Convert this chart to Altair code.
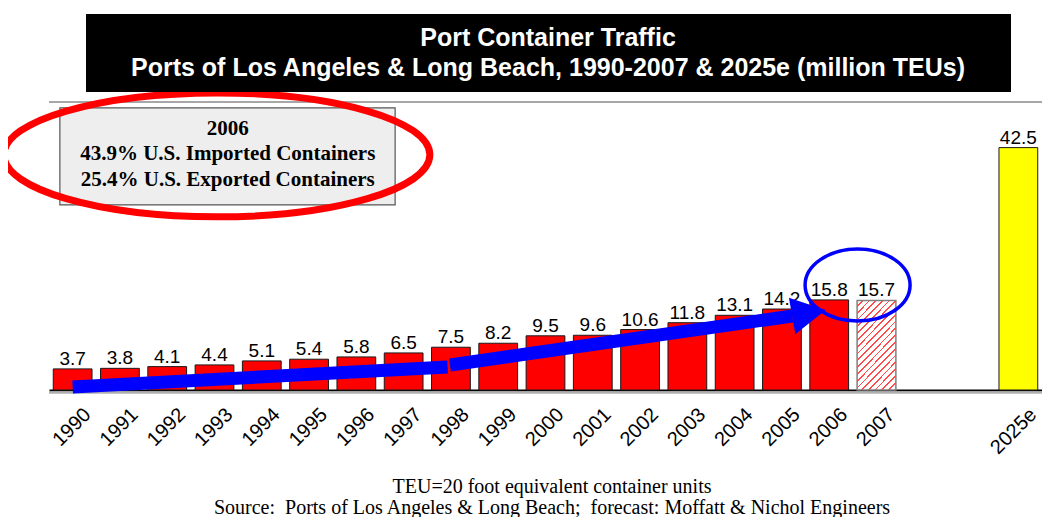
import altair as alt
import pandas as pd

# ---------------- data ----------------
years = ["1990", "1991", "1992", "1993", "1994", "1995", "1996", "1997", "1998",
         "1999", "2000", "2001", "2002", "2003", "2004", "2005", "2006", "2007", "2025e"]
teu = [3.7, 3.8, 4.1, 4.4, 5.1, 5.4, 5.8, 6.5, 7.5, 8.2, 9.5, 9.6, 10.6, 11.8,
       13.1, 14.2, 15.8, 15.7, 42.5]
kinds = ["actual"] * 17 + ["estimate", "forecast"]
slots = years[:18] + [" ", "  "] + years[18:]

title_lines = ["Port Container Traffic",
               "Ports of Los Angeles & Long Beach, 1990-2007 & 2025e (million TEUs)"]
note_lines = ["2006", "43.9% U.S. Imported Containers", "25.4% U.S. Exported Containers"]
foot_lines = ["TEU=20 foot equivalent container units",
              "Source:\u00a0 Ports of Los Angeles & Long Beach;\u00a0 forecast: Moffatt & Nichol Engineers"]

# annotation anchors in (slot index, value) units
arrow_seg = [1, 1, 2, 2]
arrow_slot = [0.50, 8.43, 8.48, 15.72]
arrow_val = [0.53, 4.04, 4.39, 12.98]
head_slot = [16.07]
head_val = [13.51]
blue_ring_slot = [17.10]
blue_ring_val = [18.40]
red_ring_slot = [3.55]
red_ring_val = [41.23]
note_box_slot = [0.23, 7.32]
note_box_val = [49.47, 32.46]
note_text_slot = [3.78]
note_text_val = [45.79]

df = pd.DataFrame({"slot": years, "teu": teu, "kind": kinds})

W, H = 993, 288
SANS = "Liberation Sans, Arial, sans-serif"
SERIF = "Liberation Serif, Times New Roman, serif"

yscale = alt.Scale(domain=[0, 50.5], nice=False, zero=True)
bscale = alt.Scale(domain=slots, paddingInner=0.18, paddingOuter=0.09)
qscale = alt.Scale(domain=[0, 21], nice=False, zero=False)

x_axis = alt.Axis(title=None, labelAngle=-45, labelFont=SANS, labelFontSize=20,
                  labelColor="black", ticks=False, domainColor="black",
                  domainWidth=2, labelOverlap=False, labelFlush=False,
                  labelOffset=8, labelPadding=14, labelBound=False)
y_axis = alt.Axis(title=None, labels=False, ticks=False, grid=False,
                  domainColor="black", domainWidth=2)

base = alt.Chart(df)
xb_axis = alt.X("slot:N", scale=bscale, sort=slots, axis=x_axis)
xb = alt.X("slot:N", scale=bscale, sort=slots, axis=None)
yb_axis = alt.Y("teu:Q", scale=yscale, axis=y_axis)
yb = alt.Y("teu:Q", scale=yscale, axis=None)

red_bars = base.transform_filter(alt.datum.kind == "actual").mark_bar(
    fill="#ff0000", stroke="#1a1a1a", strokeWidth=1
).encode(x=xb_axis, y=yb_axis)

# diagonal hatch via hard-stop gradient
n_str = 19
stops = []
for i in range(n_str):
    a = i / n_str
    b = (i + 0.74) / n_str
    c = (i + 1) / n_str
    stops += [alt.GradientStop(offset=a, color="#ffffff"),
              alt.GradientStop(offset=b, color="#ffffff"),
              alt.GradientStop(offset=b, color="#ff4a4a"),
              alt.GradientStop(offset=c, color="#ff4a4a")]
hatch = alt.LinearGradient(gradient="linear", stops=stops, x1=0, y1=0, x2=0.535, y2=1.206)

est_bar = base.transform_filter(alt.datum.kind == "estimate").mark_bar(
    fill=hatch, stroke="#808080", strokeWidth=1.5
).encode(x=xb, y=yb)

yellow_bar = base.transform_filter(alt.datum.kind == "forecast").mark_bar(
    fill="#ffff00", stroke="#1a1a1a", strokeWidth=1
).encode(x=xb, y=yb)

labels = base.mark_text(font=SANS, fontSize=19, color="black", baseline="alphabetic",
                        dy=-4).encode(x=xb, y=yb, text=alt.Text("teu:Q", format=".1f"))

one = pd.DataFrame({"k": [0]})

top_rule = alt.Chart(one).mark_rule(color="#8a8a8a", strokeWidth=1.5).encode(
    y=alt.datum(50.5, scale=yscale))
shadow_rule = alt.Chart(one).mark_rule(color="#b0b0b0", strokeWidth=2.5, yOffset=2.5).encode(
    y=alt.datum(0))

qx = lambda f: alt.X(f + ":Q", scale=qscale, axis=None)
qy = lambda f: alt.Y(f + ":Q", scale=yscale, axis=None)

arrow_df = pd.DataFrame({"seg": arrow_seg, "sx": arrow_slot, "sv": arrow_val})
arrow = alt.Chart(arrow_df).mark_line(color="#0000ff", strokeWidth=13, strokeCap="butt").encode(
    x=qx("sx"), y=qy("sv"), detail="seg:N", order="sx:Q")

head = alt.Chart(pd.DataFrame({"sx": head_slot, "sv": head_val})).mark_point(
    shape="M-0.92,-1 L0.92,0 L-0.92,1 Z", size=1369, filled=True, fill="#0000ff",
    opacity=1, strokeWidth=0, angle=350
).encode(x=qx("sx"), y=qy("sv"))

blue_ring = alt.Chart(pd.DataFrame({"sx": blue_ring_slot, "sv": blue_ring_val})).mark_point(
    shape="M-1,0 A1,0.686 0 1,1 1,0 A1,0.686 0 1,1 -1,0 Z", size=11025, filled=False,
    stroke="#0000ff", strokeWidth=3.5, opacity=1
).encode(x=qx("sx"), y=qy("sv"))

box_df = pd.DataFrame({"sx": [note_box_slot[0]], "sx2": [note_box_slot[1]],
                       "sv": [note_box_val[0]], "sv2": [note_box_val[1]]})
note_box = alt.Chart(box_df).mark_rect(fill="#eeeeee", stroke="#555555", strokeWidth=1.2).encode(
    x=qx("sx"), x2="sx2:Q", y=qy("sv"), y2="sv2:Q")

note_text = alt.Chart(pd.DataFrame({"sx": note_text_slot, "sv": note_text_val})).mark_text(
    text=note_lines, font=SERIF, fontSize=21, fontWeight="bold", color="black",
    baseline="middle", align="center", lineHeight=25.5
).encode(x=qx("sx"), y=qy("sv"))

red_ring = alt.Chart(pd.DataFrame({"sx": red_ring_slot, "sv": red_ring_val})).mark_point(
    shape="M-1,0 A1,0.291 0 1,1 1,0 A1,0.291 0 1,1 -1,0 Z", size=181476, filled=False,
    stroke="#ff0000", strokeWidth=7, opacity=1
).encode(x=qx("sx"), y=qy("sv"))

title_box = alt.Chart(one).mark_rect(fill="#000000").encode(
    x=alt.value(37), x2=alt.value(962), y=alt.value(-88), y2=alt.value(-10))
title_text = alt.Chart(one).mark_text(
    text=title_lines, font=SANS, fontSize=25, fontWeight="bold", color="white",
    align="center", baseline="middle", lineHeight=30
).encode(x=alt.value(499), y=alt.value(-64))

foot_text = alt.Chart(one).mark_text(
    text=foot_lines, font=SERIF, fontSize=20, color="black",
    align="center", baseline="middle", lineHeight=21
).encode(x=alt.value(503), y=alt.value(385))

chart = alt.layer(
    shadow_rule, top_rule, red_bars, est_bar, yellow_bar, labels,
    note_box, note_text, red_ring, arrow, head, blue_ring,
    title_box, title_text, foot_text
).resolve_scale(x="independent").properties(
    width=W, height=H,
    autosize=alt.AutoSizeParams(type="none"),
    padding={"left": 41, "top": 94, "right": 0, "bottom": 127},
    background="white"
).configure_view(stroke=None)

chart.save("out.html", embed_options={"renderer": "svg", "actions": False})
